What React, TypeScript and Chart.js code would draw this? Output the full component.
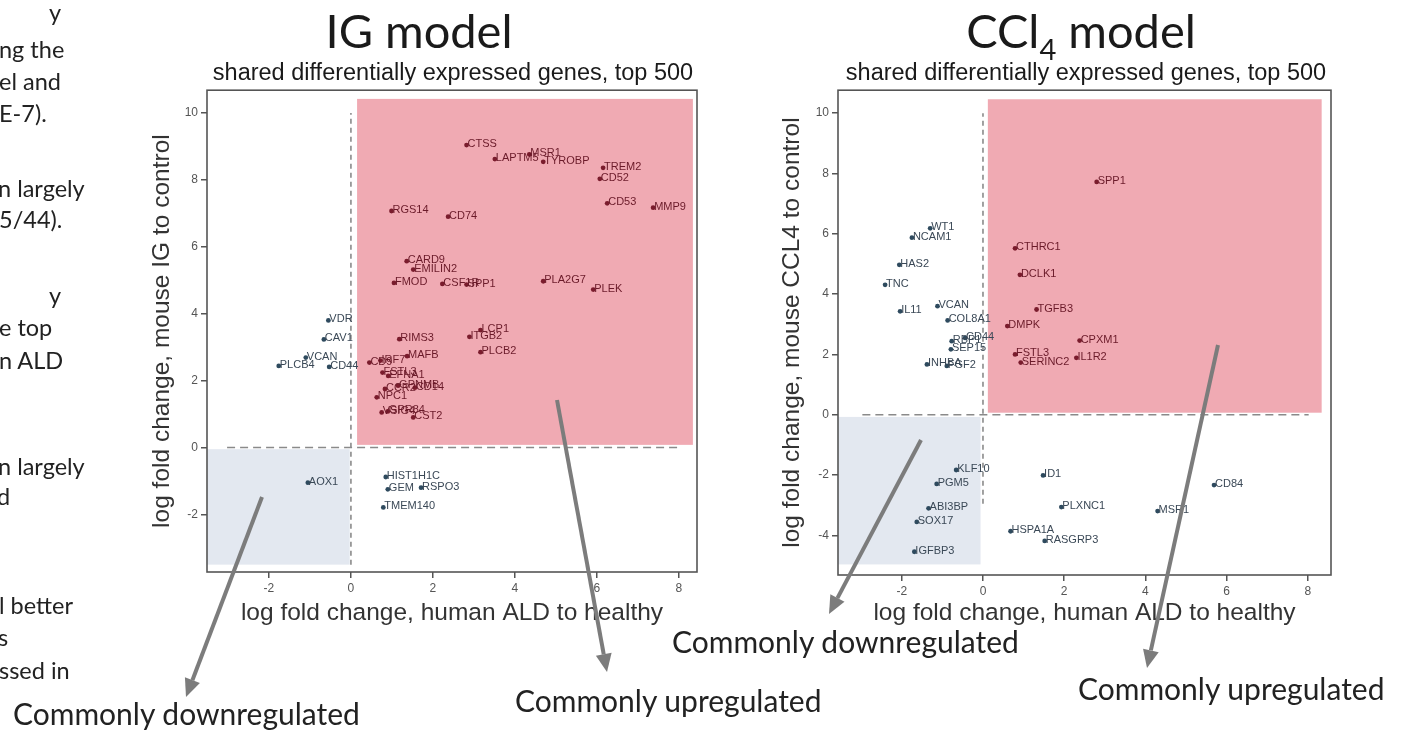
import React, { useEffect, useRef } from "react";
import { Chart, registerables } from "chart.js";
Chart.register(...registerables);

// ---------- data ----------
const xTicks = [-2, 0, 2, 4, 6, 8];
const igYTicks = [-2, 0, 2, 4, 6, 8, 10];
const cclYTicks = [-4, -2, 0, 2, 4, 6, 8, 10];

const igXRange = [-3.51, 8.44];
const igYRange = [-3.72, 10.68];
const cclXRange = [-3.57, 8.57];
const cclYRange = [-5.31, 10.76];

// shaded regions [x0, x1, y0, y1]
const igUpRegion = [0.15, 8.34, 0.08, 10.42];
const igDownRegion = [-3.51, -0.03, -3.5, -0.05];
const cclUpRegion = [0.12, 8.34, 0.07, 10.46];
const cclDownRegion = [-3.57, -0.06, -4.96, -0.07];

// dashed reference lines [x0, x1] at y = 0 and [y0, y1] at x = 0
const igHLine = [-3.02, 8.02];
const igVLine = [-3.5, 10.0];
const cclHLine = [-2.97, 8.02];
const cclVLine = [-2.95, 10.0];

const igUpGenes = ["CTSS", "LAPTM5", "MSR1", "TYROBP", "TREM2", "CD52", "CD53", "MMP9", "RGS14", "CD74", "CARD9", "EMILIN2", "FMOD", "CSF1R", "SPP1", "PLA2G7", "PLEK", "LCP1", "ITGB2", "PLCB2", "RIMS3", "MAFB", "CD9", "IRF7", "FSTL3", "EFNA1", "CCR2", "GPNMB", "CD14", "NPC1", "VSIG4", "GPR84", "CST2"];
const igUpX = [2.82, 3.51, 4.35, 4.69, 6.15, 6.07, 6.25, 7.37, 0.99, 2.37, 1.36, 1.52, 1.05, 2.23, 2.82, 4.69, 5.91, 3.16, 2.89, 3.16, 1.18, 1.37, 0.45, 0.72, 0.77, 0.91, 0.83, 1.15, 1.56, 0.63, 0.75, 0.9, 1.52];
const igUpY = [9.04, 8.62, 8.76, 8.54, 8.36, 8.03, 7.3, 7.17, 7.07, 6.9, 5.57, 5.32, 4.92, 4.89, 4.87, 4.97, 4.72, 3.51, 3.31, 2.85, 3.24, 2.73, 2.54, 2.6, 2.24, 2.14, 1.75, 1.85, 1.79, 1.5, 1.05, 1.08, 0.9];

const igOtherGenes = ["VDR", "CAV1", "VCAN", "PLCB4", "CD44", "AOX1", "HIST1H1C", "GEM", "RSPO3", "TMEM140"];
const igOtherX = [-0.55, -0.66, -1.1, -1.76, -0.53, -1.05, 0.85, 0.9, 1.71, 0.79];
const igOtherY = [3.8, 3.23, 2.69, 2.44, 2.41, -1.05, -0.88, -1.25, -1.2, -1.79];

const cclUpGenes = ["SPP1", "CTHRC1", "DCLK1", "TGFB3", "DMPK", "CPXM1", "FSTL3", "SERINC2", "IL1R2"];
const cclUpX = [2.8, 0.79, 0.91, 1.32, 0.6, 2.38, 0.79, 0.93, 2.3];
const cclUpY = [7.72, 5.52, 4.64, 3.49, 2.94, 2.46, 2.0, 1.73, 1.89];

const cclOtherGenes = ["WT1", "NCAM1", "HAS2", "TNC", "IL11", "VCAN", "COL8A1", "RBP1", "CD44", "SEP15", "INHBA", "FGF2", "KLF10", "PGM5", "ABI3BP", "SOX17", "IGFBP3", "ID1", "PLXNC1", "HSPA1A", "RASGRP3", "MSR1", "CD84"];
const cclOtherX = [-1.3, -1.75, -2.06, -2.41, -2.04, -1.12, -0.87, -0.77, -0.44, -0.79, -1.38, -0.89, -0.66, -1.14, -1.34, -1.63, -1.69, 1.48, 1.93, 0.68, 1.52, 4.3, 5.69];
const cclOtherY = [6.18, 5.87, 4.97, 4.31, 3.43, 3.6, 3.13, 2.44, 2.55, 2.17, 1.67, 1.62, -1.83, -2.29, -3.1, -3.55, -4.54, -2.01, -3.06, -3.86, -4.18, -3.19, -2.33];

// ---------- styles ----------
const SANS = "'Liberation Sans', Arial, sans-serif";
const SLIDE = "Lato, 'Open Sans', sans-serif";
const PINK = "#f0aab3";
const BLUE = "#e3e8f0";
const RED_PT = "#7a1c2d";
const RED_TXT = "#6a1a29";
const BLUE_PT = "#2e4a5e";
const BLUE_TXT = "#3a4856";

const pts = (xs: number[], ys: number[]) => xs.map((x, i) => ({ x, y: ys[i] }));

const quadPlugin = {
  id: "quad",
  beforeDatasetsDraw(chart: any, _a: any, opts: any) {
    const { ctx, scales } = chart;
    const sx = scales.x, sy = scales.y;
    ctx.save();
    for (const r of opts.regions || []) {
      const [x0, x1, y0, y1] = r.box;
      const px0 = sx.getPixelForValue(x0), px1 = sx.getPixelForValue(x1);
      const py0 = sy.getPixelForValue(y1), py1 = sy.getPixelForValue(y0);
      ctx.fillStyle = r.color;
      ctx.fillRect(px0, py0, px1 - px0, py1 - py0);
    }
    ctx.restore();
  },
  afterDatasetsDraw(chart: any) {
    const { ctx } = chart;
    ctx.save();
    ctx.font = `11px ${SANS}`;
    ctx.textBaseline = "alphabetic";
    ctx.textAlign = "left";
    chart.data.datasets.forEach((ds: any, i: number) => {
      if (!ds.geneLabels) return;
      const meta = chart.getDatasetMeta(i);
      ctx.fillStyle = ds.labelColor;
      meta.data.forEach((el: any, j: number) => {
        ctx.fillText(ds.geneLabels[j], el.x + 1, el.y + 2);
      });
    });
    ctx.restore();
  },
  afterDraw(chart: any) {
    const { ctx, chartArea: a } = chart;
    ctx.save();
    ctx.strokeStyle = "#555";
    ctx.lineWidth = 1.6;
    ctx.strokeRect(a.left, a.top, a.right - a.left, a.bottom - a.top);
    ctx.restore();
  },
};

function makeConfig(o: any): any {
  return {
    type: "scatter",
    data: {
      datasets: [
        {
          type: "scatter",
          data: [{ x: o.hLine[0], y: 0 }, { x: o.hLine[1], y: 0 }],
          showLine: true,
          borderColor: "#8a8a8a",
          borderWidth: 1.6,
          borderDash: [8, 5],
          pointRadius: 0,
        },
        {
          type: "scatter",
          data: [{ x: 0, y: o.vLine[0] }, { x: 0, y: o.vLine[1] }],
          showLine: true,
          borderColor: "#8a8a8a",
          borderWidth: 1.6,
          borderDash: [5, 4],
          pointRadius: 0,
        },
        {
          data: o.other,
          geneLabels: o.otherLabels,
          labelColor: BLUE_TXT,
          pointRadius: 2.4,
          pointBackgroundColor: BLUE_PT,
          pointBorderWidth: 0,
        },
        {
          data: o.up,
          geneLabels: o.upLabels,
          labelColor: RED_TXT,
          pointRadius: 2.4,
          pointBackgroundColor: RED_PT,
          pointBorderWidth: 0,
        },
      ],
    },
    options: {
      responsive: false,
      animation: false,
      devicePixelRatio: 1,
      layout: { padding: { top: 8, right: o.padRight, left: 0, bottom: 0 } },
      plugins: {
        legend: { display: false },
        tooltip: { enabled: false },
        quad: { regions: o.regions },
      },
      scales: {
        x: {
          type: "linear",
          min: o.xRange[0],
          max: o.xRange[1],
          afterBuildTicks: (s: any) => {
            s.ticks = xTicks.map((v) => ({ value: v }));
          },
          afterFit: (s: any) => {
            s.height = o.xHeight;
          },
          border: { display: false },
          grid: { drawOnChartArea: false, drawTicks: true, tickLength: 6, color: "#555", lineWidth: 1.5 },
          ticks: { color: "#555", font: { size: 12, family: SANS }, padding: 3, maxRotation: 0, autoSkip: false, callback: (v: any) => String(v) },
          title: { display: true, text: "log fold change, human ALD to healthy", color: "#333", font: { size: 24.5, family: SANS }, padding: { top: 0, bottom: o.xTitlePad } },
        },
        y: {
          type: "linear",
          min: o.yRange[0],
          max: o.yRange[1],
          afterBuildTicks: (s: any) => {
            s.ticks = o.yTicks.map((v: number) => ({ value: v }));
          },
          afterFit: (s: any) => {
            s.width = o.yWidth;
          },
          border: { display: false },
          grid: { drawOnChartArea: false, drawTicks: true, tickLength: 6, color: "#555", lineWidth: 1.5 },
          ticks: { color: "#555", font: { size: 12, family: SANS }, padding: 3, autoSkip: false, callback: (v: any) => String(v) },
          title: { display: true, text: o.yTitle, color: "#333", font: { size: 24.5, family: SANS }, padding: { top: o.yTitlePad, bottom: 0 } },
        },
      },
    },
    plugins: [quadPlugin],
  };
}

function ChartCanvas({ config, left, top, width, height }: any) {
  const ref = useRef<HTMLCanvasElement>(null);
  useEffect(() => {
    const chart = new Chart(ref.current as HTMLCanvasElement, config);
    return () => chart.destroy();
  }, []);
  return (
    <canvas
      ref={ref}
      width={width}
      height={height}
      style={{ position: "absolute", left, top, width, height }}
    />
  );
}

const igConfig = makeConfig({
  xRange: igXRange,
  yRange: igYRange,
  yTicks: igYTicks,
  hLine: igHLine,
  vLine: igVLine,
  up: pts(igUpX, igUpY),
  upLabels: igUpGenes,
  other: pts(igOtherX, igOtherY),
  otherLabels: igOtherGenes,
  regions: [
    { box: igUpRegion, color: PINK },
    { box: igDownRegion, color: BLUE },
  ],
  padRight: 13,
  xHeight: 68,
  yWidth: 67,
  xTitlePad: 12,
  yTitlePad: 8,
  yTitle: "log fold change, mouse IG to control",
});

const cclConfig = makeConfig({
  xRange: cclXRange,
  yRange: cclYRange,
  yTicks: cclYTicks,
  hLine: cclHLine,
  vLine: cclVLine,
  up: pts(cclUpX, cclUpY),
  upLabels: cclUpGenes,
  other: pts(cclOtherX, cclOtherY),
  otherLabels: cclOtherGenes,
  regions: [
    { box: cclUpRegion, color: PINK },
    { box: cclDownRegion, color: BLUE },
  ],
  padRight: 9,
  xHeight: 70,
  yWidth: 68,
  xTitlePad: 17,
  yTitlePad: 8,
  yTitle: "log fold change, mouse CCL4 to control",
});

const leftFragments = [
  { t: "y", x: 49, y: 13 },
  { t: "ng the", x: -1, y: 50 },
  { t: "el and", x: -1, y: 82 },
  { t: "E-7).", x: -1, y: 114 },
  { t: "n largely", x: -2, y: 189 },
  { t: "5/44).", x: -1, y: 220 },
  { t: "y", x: 49, y: 296 },
  { t: "e top", x: -1, y: 328 },
  { t: "n ALD", x: -1, y: 361 },
  { t: "n largely", x: -2, y: 467 },
  { t: "d", x: -3, y: 497 },
  { t: "l better", x: -1, y: 606 },
  { t: "s", x: -2, y: 638 },
  { t: "ssed in", x: -1, y: 671 },
];

const arrows = [
  { x1: 262, y1: 497, x2: 186, y2: 697 },
  { x1: 557, y1: 400, x2: 607, y2: 672 },
  { x1: 921, y1: 440, x2: 829, y2: 614 },
  { x1: 1218, y1: 345, x2: 1147, y2: 668 },
];

function Arrow({ x1, y1, x2, y2 }: any) {
  const dx = x2 - x1, dy = y2 - y1;
  const len = Math.hypot(dx, dy);
  const ux = dx / len, uy = dy / len;
  const hl = 18, hw = 8;
  const bx = x2 - ux * hl, by = y2 - uy * hl;
  const p1 = `${bx - uy * hw},${by + ux * hw}`;
  const p2 = `${bx + uy * hw},${by - ux * hw}`;
  return (
    <g>
      <line x1={x1} y1={y1} x2={bx} y2={by} stroke="#7c7c7c" strokeWidth={4} />
      <polygon points={`${x2},${y2} ${p1} ${p2}`} fill="#7c7c7c" />
    </g>
  );
}

function Txt({ children, x, y, size, family = SLIDE, color = "#222", center = false, style = {} }: any) {
  return (
    <div
      style={{
        position: "absolute",
        left: x,
        top: y,
        transform: center ? "translate(-50%, -50%)" : "translateY(-50%)",
        fontFamily: family,
        fontSize: size,
        lineHeight: 1,
        color,
        whiteSpace: "nowrap",
        zIndex: 3,
        ...style,
      }}
    >
      {children}
    </div>
  );
}

export default function App() {
  return (
    <div
      style={{
        position: "absolute",
        left: 0,
        top: 0,
        width: 1403,
        height: 731,
        overflow: "hidden",
        background: "#fff",
      }}
    >
      {leftFragments.map((f, i) => (
        <Txt key={i} x={f.x} y={f.y} size={23.5}>
          {f.t}
        </Txt>
      ))}

      <Txt x={419} y={30} size={47} center color="#1a1a1a">
        IG model
      </Txt>
      <Txt x={1081} y={30} size={47} center color="#1a1a1a">
        <span>
          CCl<span style={{ fontSize: "0.62em", position: "relative", top: "0.42em" }}>4</span> model
        </span>
      </Txt>
      <Txt x={453} y={73} size={23.5} family={SANS} center color="#1a1a1a">
        shared differentially expressed genes, top 500
      </Txt>
      <Txt x={1086} y={73} size={23.5} family={SANS} center color="#1a1a1a">
        shared differentially expressed genes, top 500
      </Txt>

      <ChartCanvas config={igConfig} left={140} top={80} width={570} height={560} />
      <ChartCanvas config={cclConfig} left={770} top={80} width={570} height={565} />

      <svg
        width={1403}
        height={731}
        style={{ position: "absolute", left: 0, top: 0, zIndex: 2, pointerEvents: "none" }}
      >
        {arrows.map((a, i) => (
          <Arrow key={i} {...a} />
        ))}
      </svg>

      <Txt x={13} y={713} size={30}>
        Commonly downregulated
      </Txt>
      <Txt x={515} y={700} size={30}>
        Commonly upregulated
      </Txt>
      <Txt x={672} y={641} size={30}>
        Commonly downregulated
      </Txt>
      <Txt x={1078} y={688} size={30}>
        Commonly upregulated
      </Txt>
    </div>
  );
}
